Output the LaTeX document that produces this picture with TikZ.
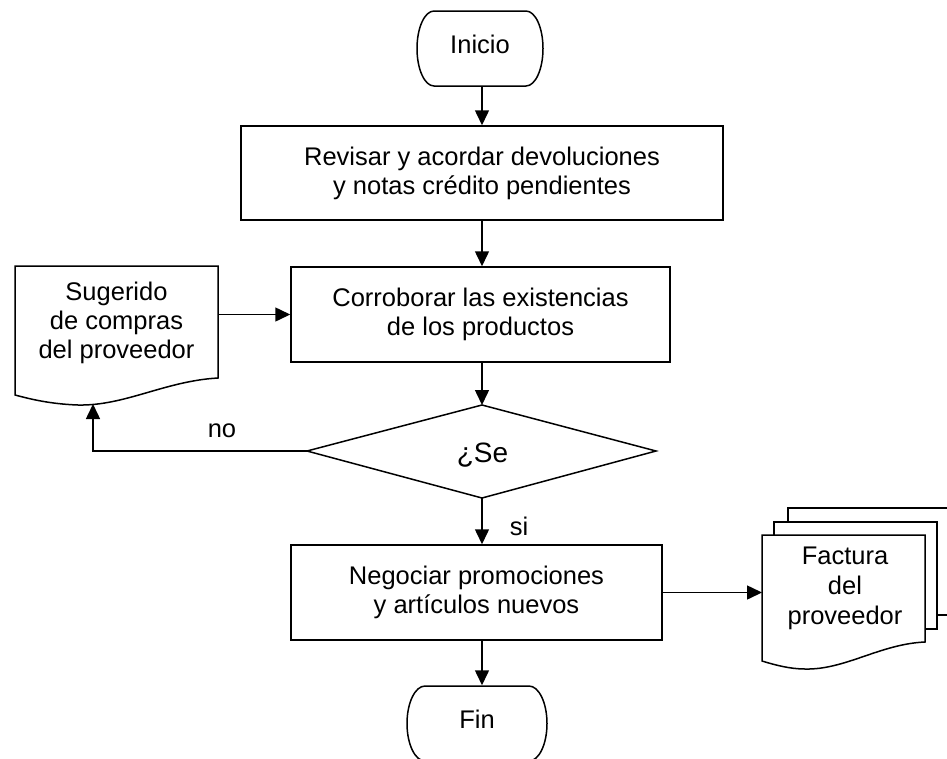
\documentclass[tikz,border=0pt]{standalone}
\usepackage{fontspec}
\setmainfont{Liberation Sans}
\usetikzlibrary{arrows.meta}
\begin{document}
\begin{tikzpicture}[x=1pt,y=-1pt,
  line width=1.5pt,
  font=\fontsize{25.5}{29}\selectfont,
  arr/.style={-{Triangle[length=15pt,width=14pt]}},
  proc/.style={draw, rectangle, align=center, inner sep=0pt},
  term/.style={inner sep=0pt, text height=18pt, text depth=9pt},
  txt/.style={inner sep=0pt, align=center},
  outline/.style={line join=miter}]
\useasboundingbox (0,0) rectangle (947,758);

% Inicio (terminal)
\node[term, minimum width=126pt, minimum height=75pt] (ini) at (480,48.5) {Inicio};
\draw[outline] (434,11) -- (526,11) .. controls (535.4,11) and (543,27.8) .. (543,48.5)
  .. controls (543,69.2) and (535.4,86) .. (526,86) -- (434,86)
  .. controls (424.6,86) and (417,69.2) .. (417,48.5)
  .. controls (417,27.8) and (424.6,11) .. (434,11) -- cycle;

% Process boxes
\node[proc, minimum width=482pt, minimum height=94pt] (b1) at (482,173)
  {Revisar y acordar devoluciones\\y notas crédito pendientes};
\node[proc, minimum width=379pt, minimum height=95pt] (b2) at (480.5,314.5)
  {Corroborar las existencias\\de los productos};
\node[proc, minimum width=371pt, minimum height=95pt] (b3) at (476.5,592.5)
  {Negociar promociones\\y artículos nuevos};

% Document: Sugerido de compras del proveedor
\node[txt] (sug) at (116.5,322.5) {Sugerido\\de compras\\del proveedor};
\coordinate (sugR) at (218,314.5);
\coordinate (sugB) at (93,404);
\draw[outline] (15,395) -- (15,266) -- (218,266) -- (218,378)
  .. controls (165,381) and (125,406) .. (78,405)
  .. controls (50,404) and (30,399) .. (15,395) -- cycle;

% Decision
\coordinate (dT) at (482,405);
\coordinate (dR) at (656,451);
\coordinate (dB) at (482,498);
\coordinate (dL) at (307,451);
\draw[outline] (dT) -- (dR) -- (dB) -- (dL) -- cycle;
\node[inner sep=0pt, anchor=base, font=\fontsize{28}{33}\selectfont] (dia) at (482.5,462) {¿Se};

% Multi-document: Factura del proveedor
\node[txt, font=\fontsize{25.5}{30}\selectfont] (fac) at (845,588.5) {Factura\\del\\proveedor};
\coordinate (facL) at (762,592.5);
\draw[outline] (762,661) -- (762,535) -- (925,535) -- (925,642)
  .. controls (880,644) and (845,670) .. (805,669)
  .. controls (790,669) and (775,665) .. (762,661) -- cycle;
\draw[outline] (774,535) -- (774,522) -- (937,522) -- (937,629) -- (925,629);
\draw[outline] (788,522) -- (788,508) -- (950,508) -- (950,615) -- (937,615);

% Fin (terminal)
\node[term, minimum width=140pt, minimum height=75pt] (fin) at (477,723.5) {Fin};
\draw[outline] (425,686) -- (529,686) .. controls (538.9,686) and (547,702.8) .. (547,723.5)
  .. controls (547,744.2) and (538.9,761) .. (529,761) -- (425,761)
  .. controls (415.1,761) and (407,744.2) .. (407,723.5)
  .. controls (407,702.8) and (415.1,686) .. (425,686) -- cycle;

% Connectors
\draw[arr] (ini.south -| b1.north) -- (b1.north);
\draw[arr] (b1.south) -- (b1.south |- b2.north);
\draw[arr] (sugR) -- (b2.west);
\draw[arr] (b2.south -| dT) -- (dT);
\draw[arr] (dL) -- (dL -| sugB) -- (sugB);
\draw[arr] (dB) -- (dB |- b3.north);
\draw[arr] (b3.east) -- (facL);
\draw[arr] (b3.south -| dB) -- (dB |- fin.north);

% Labels
\node[inner sep=0pt] (lno) at (222,431) {no};
\node[inner sep=0pt] (lsi) at (519,526) {si};
\end{tikzpicture}
\end{document}
